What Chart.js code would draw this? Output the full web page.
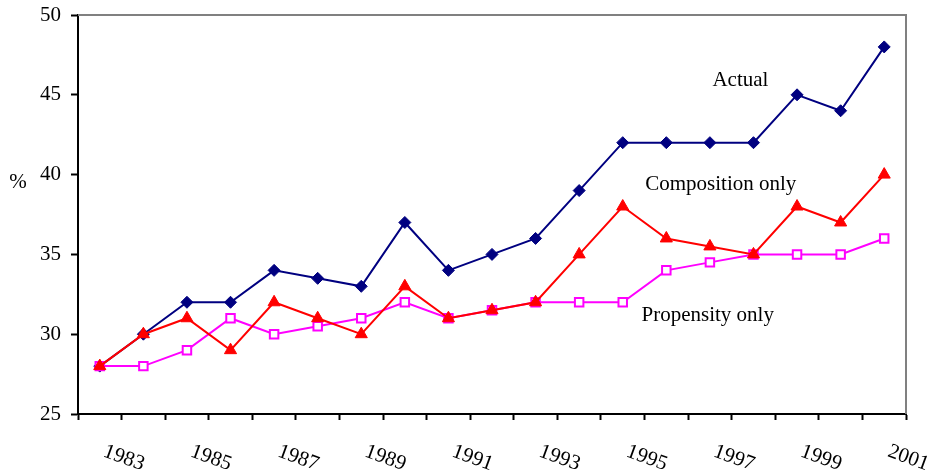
<!DOCTYPE html>
<html lang="en">
<head>
<meta charset="UTF-8">
<title>Actual, composition only, propensity only</title>
<script src="https://cdn.jsdelivr.net/npm/chart.js@4.4.7/dist/chart.umd.min.js"></script>
<style>
  * { margin: 0; padding: 0; box-sizing: border-box; }
  body { background: #fff; width: 929px; height: 472px; overflow: hidden; }
  .chart-box { position: relative; width: 929px; height: 472px; }
</style>
</head>
<body>
<div class="chart-box"><canvas id="lineChart"></canvas></div>
<script>
const years = ['1983', '1984', '1985', '1986', '1987', '1988', '1989', '1990', '1991', '1992',
               '1993', '1994', '1995', '1996', '1997', '1998', '1999', '2000', '2001'];
const actual          = [28, 30, 32, 32, 34, 33.5, 33, 37, 34, 35, 36, 39, 42, 42, 42, 42, 45, 44, 48];
const compositionOnly = [28, 30, 31, 29, 32, 31, 30, 33, 31, 31.5, 32, 35, 38, 36, 35.5, 35, 38, 37, 40];
const propensityOnly  = [28, 28, 29, 31, 30, 30.5, 31, 32, 31, 31.5, 32, 32, 32, 34, 34.5, 35, 35, 35, 36];
const seriesNames = ['Actual', 'Composition only', 'Propensity only'];
const yTicks = [25, 30, 35, 40, 45, 50];

const serif = "'Liberation Serif', 'Times New Roman', serif";
Chart.defaults.font.family = serif;
Chart.defaults.font.size = 21;
Chart.defaults.color = '#000';

// 枠線・回転した年ラベル・系列名
const decorate = {
  id: 'decorate',
  beforeDatasetsDraw(chart) {
    const { ctx, chartArea: a } = chart;
    ctx.save();
    ctx.strokeStyle = '#808080';
    ctx.lineWidth = 2;
    ctx.beginPath();
    ctx.moveTo(a.left, a.top);
    ctx.lineTo(a.right, a.top);
    ctx.lineTo(a.right, a.bottom);
    ctx.stroke();
    ctx.restore();
  },
  afterDraw(chart) {
    const { ctx, chartArea: a, scales: { x, y } } = chart;
    ctx.save();
    ctx.fillStyle = '#000';
    ctx.font = '21px ' + serif;

    // year labels, every other one, turned clockwise
    ctx.textAlign = 'left';
    ctx.textBaseline = 'top';
    years.forEach((yr, i) => {
      if (i % 2 !== 0) return;
      ctx.save();
      ctx.translate(x.getPixelForValue(i) + 8, a.bottom + 27);
      ctx.rotate(20 * Math.PI / 180);
      ctx.fillText(yr, 0, 0);
      ctx.restore();
    });

    // series names beside the lines
    ctx.textAlign = 'center';
    ctx.textBaseline = 'middle';
    ctx.fillText(seriesNames[0], x.getPixelForValue(14.7), y.getPixelForValue(45.9));
    ctx.fillText(seriesNames[1], x.getPixelForValue(14.25), y.getPixelForValue(39.4));
    ctx.fillText(seriesNames[2], x.getPixelForValue(13.95), y.getPixelForValue(31.2));

    // axis unit
    ctx.fillText('%', 18, y.getPixelForValue(39.5));
    ctx.restore();
  }
};

new Chart(document.getElementById('lineChart'), {
  type: 'line',
  data: {
    labels: years,
    datasets: [
      {
        label: seriesNames[0],
        data: actual,
        borderColor: '#000080',
        backgroundColor: '#000080',
        borderWidth: 2,
        pointStyle: 'rectRot',
        pointRadius: 6,
        pointBorderWidth: 1,
        order: 2,
      },
      {
        label: seriesNames[1],
        data: compositionOnly,
        borderColor: '#ff0000',
        backgroundColor: '#ff0000',
        borderWidth: 2,
        pointStyle: 'triangle',
        pointRadius: 7,
        pointBorderWidth: 1,
        order: 0,
      },
      {
        label: seriesNames[2],
        data: propensityOnly,
        borderColor: '#ff00ff',
        backgroundColor: '#ffffff',
        borderWidth: 2,
        pointStyle: 'rect',
        pointRadius: 6,
        pointBorderWidth: 2,
        order: 1,
      },
    ]
  },
  options: {
    responsive: true,
    maintainAspectRatio: false,
    animation: false,
    layout: { autoPadding: false, padding: { top: 15, right: 23, left: 0, bottom: 0 } },
    plugins: { legend: { display: false }, tooltip: { enabled: false } },
    scales: {
      x: {
        offset: true,
        grid: { offset: true, drawOnChartArea: false, drawTicks: true, tickLength: 6, tickColor: '#000', tickWidth: 2 },
        border: { color: '#000', width: 2 },
        ticks: { display: false },
        afterFit(scale) { scale.height = 58; }
      },
      y: {
        min: yTicks[0],
        max: yTicks[yTicks.length - 1],
        afterBuildTicks(scale) { scale.ticks = yTicks.map(v => ({ value: v })); },
        grid: { drawOnChartArea: false, drawTicks: true, tickLength: 7, tickColor: '#000', tickWidth: 2 },
        border: { color: '#000', width: 2 },
        ticks: { padding: 10, color: '#000', font: { size: 21 } },
        afterFit(scale) {
          scale.width = 78;
          scale.paddingTop = 0;
          scale.paddingBottom = 0;
        }
      }
    }
  },
  plugins: [decorate]
});
</script>
</body>
</html>
